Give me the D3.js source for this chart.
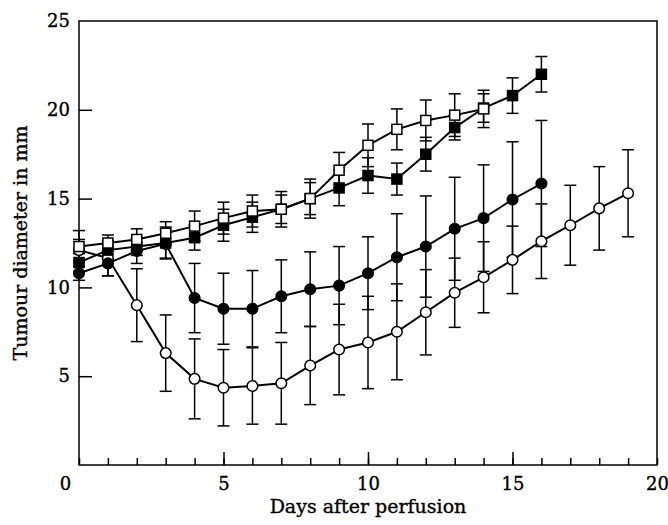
<!DOCTYPE html>
<html>
<head>
<meta charset="utf-8">
<script src="https://cdn.jsdelivr.net/npm/d3@7"></script>
<style>
  body { margin: 0; background: #fff; }
  svg text { font-family: "DejaVu Serif", serif; fill: #000; stroke: #000; stroke-width: 0.35px; }
</style>
</head>
<body>
<div id="chart"></div>
<script>
// days after perfusion
const days = d3.range(0, 20)

// filled squares
const filledSquareMean = [11.4, 12.1, 12.3, 12.5, 12.8, 13.5, 13.95, 14.4, 15.0, 15.6, 16.3, 16.1, 17.5, 19.0, 20.1, 20.8, 22.0]
const filledSquareErr  = [0.5, 0.5, 0.5, 0.9, 0.7, 0.9, 0.85, 0.8, 1.1, 1.0, 1.0, 0.9, 0.95, 0.7, 0.8, 1.0, 1.0]
// open squares
const openSquareMean = [12.3, 12.5, 12.7, 13.05, 13.45, 13.9, 14.3, 14.4, 15.0, 16.6, 18.0, 18.9, 19.4, 19.7, 20.05]
const openSquareErr  = [0.9, 0.45, 0.6, 0.65, 0.85, 0.9, 0.9, 1.0, 0.9, 1.0, 1.2, 1.15, 1.15, 1.2, 1.05]
// filled circles
const filledCircleMean = [10.8, 11.35, 12.05, 12.45, 9.4, 8.8, 8.8, 9.5, 9.9, 10.1, 10.8, 11.7, 12.3, 13.3, 13.9, 14.95, 15.85]
const filledCircleErr  = [0.4, 0.7, 0.7, 0.8, 1.95, 2.0, 2.15, 2.05, 2.1, 2.2, 2.05, 2.45, 2.85, 2.9, 3.0, 3.25, 3.55]
// open circles
const openCircleMean = [12.1, 11.65, 9.0, 6.3, 4.85, 4.35, 4.45, 4.6, 5.6, 6.5, 6.9, 7.5, 8.6, 9.7, 10.57, 11.55, 12.6, 13.5, 14.45, 15.3]
const openCircleErr  = [0.6, 1.0, 2.05, 2.15, 2.25, 2.15, 2.15, 2.3, 2.2, 2.55, 2.6, 2.7, 2.4, 1.95, 2.0, 1.9, 2.1, 2.25, 2.35, 2.45]

const xTicks = [0, 5, 10, 15, 20]
const yTicks = [5, 10, 15, 20, 25]

const series = [
  { name: "openCircle", mean: openCircleMean, err: openCircleErr, shape: "circle", fill: "#fff" },
  { name: "filledCircle", mean: filledCircleMean, err: filledCircleErr, shape: "circle", fill: "#000" },
  { name: "filledSquare", mean: filledSquareMean, err: filledSquareErr, shape: "square", fill: "#000" },
  { name: "openSquare", mean: openSquareMean, err: openSquareErr, shape: "square", fill: "#fff" },
].map(s => ({
  ...s,
  points: s.mean.map((v, i) => ({ day: days[i], value: v, err: s.err[i] }))
}))

const dimensions = {
  width: 668,
  height: 525,
  margin: { top: 21, right: 11, bottom: 60, left: 79 }
}
dimensions.boundedWidth = dimensions.width - dimensions.margin.left - dimensions.margin.right
dimensions.boundedHeight = dimensions.height - dimensions.margin.top - dimensions.margin.bottom

const svg = d3.select("#chart").append("svg")
    .attr("width", dimensions.width)
    .attr("height", dimensions.height)

const bounds = svg.append("g")
    .attr("transform", `translate(${dimensions.margin.left},${dimensions.margin.top})`)

const xScale = d3.scaleLinear()
  .domain([0, 20])
  .range([0, dimensions.boundedWidth])

const yScale = d3.scaleLinear()
  .domain([0, 25])
  .range([dimensions.boundedHeight, 0])

// frame
bounds.append("rect")
    .attr("width", dimensions.boundedWidth)
    .attr("height", dimensions.boundedHeight)
    .attr("fill", "none")
    .attr("stroke", "#000")
    .attr("stroke-width", 1.5)

// x axis: minor ticks every day, major ticks every 5
const xMinor = bounds.append("g")
    .attr("transform", `translate(0,${dimensions.boundedHeight})`)
    .call(d3.axisBottom(xScale).tickValues(d3.range(0, 21)).tickSize(-7).tickSizeOuter(0).tickFormat(""))
xMinor.select(".domain").remove()

const xAxis = bounds.append("g")
    .attr("transform", `translate(0,${dimensions.boundedHeight})`)
    .call(d3.axisBottom(xScale).tickValues(xTicks).tickSize(-13).tickSizeOuter(0).tickPadding(12))
xAxis.select(".domain").remove()
xAxis.selectAll("text").attr("font-size", 18)
// the 0 label sits left of the corner
xAxis.selectAll(".tick").filter(d => d === 0).select("text").attr("dx", -14)
xAxis.selectAll(".tick").filter(d => d === 0 || d === 20).select("line").remove()

const yAxis = bounds.append("g")
    .call(d3.axisLeft(yScale).tickValues(yTicks).tickSize(-13).tickSizeOuter(0).tickPadding(9))
yAxis.select(".domain").remove()
yAxis.selectAll("text").attr("font-size", 18)
yAxis.selectAll(".tick").filter(d => d === 25).select("line").remove()

bounds.selectAll(".tick line").attr("stroke-width", 1.5)

// axis labels
svg.append("text")
    .attr("x", dimensions.margin.left + dimensions.boundedWidth / 2)
    .attr("y", 513)
    .attr("text-anchor", "middle")
    .attr("font-size", 19)
    .text("Days after perfusion")

svg.append("text")
    .attr("transform", `translate(27,${dimensions.margin.top + dimensions.boundedHeight / 2}) rotate(-90)`)
    .attr("text-anchor", "middle")
    .attr("font-size", 19)
    .text("Tumour diameter in mm")

// error bars
const capHalf = 6
const errGroups = bounds.append("g").selectAll("g")
  .data(series)
  .join("g")

errGroups.each(function(s) {
  const g = d3.select(this)
  const pts = g.selectAll("g").data(s.points).join("g")
  pts.append("line")
      .attr("x1", d => xScale(d.day))
      .attr("x2", d => xScale(d.day))
      .attr("y1", d => yScale(d.value + d.err))
      .attr("y2", d => yScale(d.value - d.err))
  pts.append("line")
      .attr("x1", d => xScale(d.day) - capHalf)
      .attr("x2", d => xScale(d.day) + capHalf)
      .attr("y1", d => yScale(d.value + d.err))
      .attr("y2", d => yScale(d.value + d.err))
  pts.append("line")
      .attr("x1", d => xScale(d.day) - capHalf)
      .attr("x2", d => xScale(d.day) + capHalf)
      .attr("y1", d => yScale(d.value - d.err))
      .attr("y2", d => yScale(d.value - d.err))
  pts.selectAll("line")
      .attr("stroke", "#000")
      .attr("stroke-width", 1.5)
})

// lines
const lineGenerator = d3.line()
  .x(d => xScale(d.day))
  .y(d => yScale(d.value))

bounds.append("g").selectAll("path")
  .data(series)
  .join("path")
    .attr("d", s => lineGenerator(s.points))
    .attr("fill", "none")
    .attr("stroke", "#000")
    .attr("stroke-width", 2)

// markers
const markerGroups = bounds.append("g").selectAll("g")
  .data(series)
  .join("g")

markerGroups.each(function(s) {
  const g = d3.select(this)
  if (s.shape === "circle") {
    g.selectAll("circle").data(s.points).join("circle")
        .attr("cx", d => xScale(d.day))
        .attr("cy", d => yScale(d.value))
        .attr("r", 5.3)
        .attr("fill", s.fill)
        .attr("stroke", "#000")
        .attr("stroke-width", 1.5)
  } else {
    const side = 10
    g.selectAll("rect").data(s.points).join("rect")
        .attr("x", d => xScale(d.day) - side / 2)
        .attr("y", d => yScale(d.value) - side / 2)
        .attr("width", side)
        .attr("height", side)
        .attr("fill", s.fill)
        .attr("stroke", "#000")
        .attr("stroke-width", 1.5)
  }
})
</script>
</body>
</html>
